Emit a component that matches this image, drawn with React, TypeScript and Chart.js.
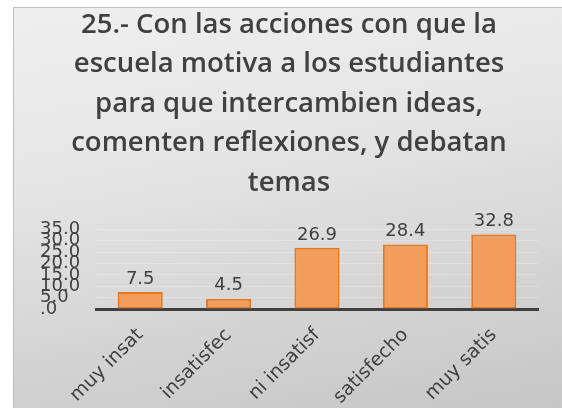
import React, { useEffect, useRef } from "react";
import { Chart, registerables } from "chart.js";

Chart.register(...registerables);

const titleLines = [
  "25.- Con las acciones con que la",
  "escuela motiva a los estudiantes",
  "para que intercambien ideas,",
  "comenten reflexiones, y debatan",
  "temas",
];
const categories = ["muy insat", "insatisfec", "ni insatisf", "satisfecho", "muy satis"];
const values = [7.5, 4.5, 26.9, 28.4, 32.8];
const yMin = 0;
const yMax = 35;
const yStep = 5;

const TEXT = "#404040";
const LABEL_FONT = "DejaVu Sans";

const valueLabels = {
  id: "valueLabels",
  afterDatasetsDraw(chart: any) {
    const ctx = chart.ctx;
    const meta = chart.getDatasetMeta(0);
    ctx.save();
    ctx.font = `18px "${LABEL_FONT}"`;
    ctx.fillStyle = TEXT;
    ctx.textAlign = "center";
    ctx.textBaseline = "bottom";
    meta.data.forEach((el: any, i: number) => {
      const v = chart.data.datasets[0].data[i] as number;
      ctx.fillText(v.toFixed(1), el.x, el.y - 4);
    });
    ctx.restore();
  },
};

export default function App() {
  const ref = useRef<HTMLCanvasElement>(null);
  useEffect(() => {
    if (!ref.current) return;
    const chart = new Chart(ref.current, {
      type: "bar",
      data: {
        labels: categories,
        datasets: [
          {
            data: values,
            backgroundColor: "#F19E5C",
            borderColor: "#E8771F",
            borderWidth: 2,
            borderSkipped: false,
            categoryPercentage: 1,
            barPercentage: 0.51,
          },
        ],
      },
      plugins: [valueLabels],
      options: {
        responsive: false,
        animation: false,
        layout: { padding: { left: 40, right: 24, top: 0, bottom: 0 } },
        plugins: {
          legend: { display: false },
          tooltip: { enabled: false },
          title: {
            display: true,
            text: titleLines,
            color: TEXT,
            font: { family: "Open Sans", size: 27.5, weight: 600, lineHeight: 1.436 },
            padding: { top: 5, bottom: 27 },
          },
        },
        scales: {
          x: {
            grid: { display: false, drawTicks: false },
            border: { display: true, color: "#404040", width: 3 },
            ticks: {
              color: TEXT,
              font: { family: LABEL_FONT, size: 19 },
              minRotation: 45,
              maxRotation: 45,
              autoSkip: false,
              padding: 15,
            },
            afterFit: (s: any) => {
              s.height = 99;
            },
          },
          y: {
            min: yMin,
            max: yMax,
            grid: { color: "rgba(255,255,255,0.22)", drawTicks: false },
            border: { display: false },
            ticks: {
              stepSize: yStep,
              autoSkip: false,
              color: TEXT,
              crossAlign: "far",
              font: { family: LABEL_FONT, size: 18 },
              callback: (v: any) => (Number(v) === 0 ? ".0" : Number(v).toFixed(1)),
            },
            afterFit: (s: any) => {
              s.width = 56;
            },
          },
        },
      },
    });
    return () => chart.destroy();
  }, []);
  return (
    <div style={{ position: "fixed", left: 0, top: 0, width: 562, height: 408, overflow: "hidden" }}>
      <div
        style={{
          position: "absolute",
          left: 13,
          top: 7,
          width: 600,
          height: 450,
          borderLeft: "1px solid #bdbdbd",
          borderTop: "1px solid #bdbdbd",
          background: "linear-gradient(170deg, #efefef 0%, #e6e6e6 30%, #d6d6d6 60%, #c0c0c0 100%)",
        }}
      />
      <canvas ref={ref} width={562} height={408} style={{ position: "absolute", left: 0, top: 0 }} />
    </div>
  );
}
